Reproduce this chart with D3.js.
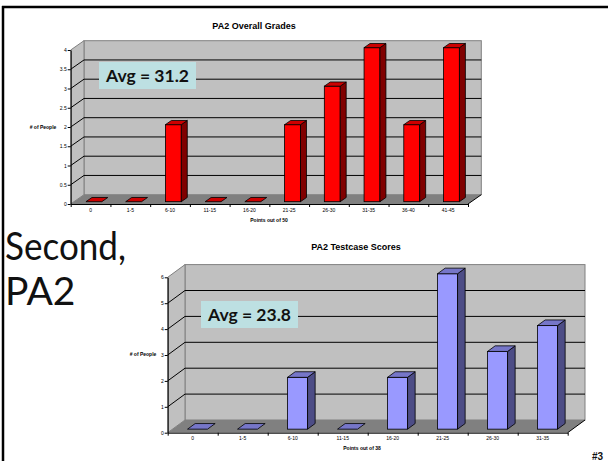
<!DOCTYPE html>
<html>
<head>
<meta charset="utf-8">
<script src="https://cdn.jsdelivr.net/npm/d3@7"></script>
<style>
  body { margin: 0; background: #fff; }
  svg { display: block; }
</style>
</head>
<body>
<div id="slide"></div>
<script>
// PA2 overall grades (top chart)
var gradeCats = ["0", "1-5", "6-10", "11-15", "16-20", "21-25", "26-30", "31-35", "36-40", "41-45"];
var gradeCounts = [0, 0, 2, 0, 0, 2, 3, 4, 2, 4];
var gradeTicks = [0, 0.5, 1, 1.5, 2, 2.5, 3, 3.5, 4];

// PA2 testcase scores (bottom chart)
var testCats = ["0", "1-5", "6-10", "11-15", "16-20", "21-25", "26-30", "31-35"];
var testCounts = [0, 0, 2, 0, 2, 6, 3, 4];
var testTicks = [0, 1, 2, 3, 4, 5, 6];

var width = 608, height = 461;
var svg = d3.select("#slide").append("svg")
  .attr("width", width)
  .attr("height", height);

// slide frame
svg.append("line").attr("x1", 2).attr("x2", width).attr("y1", 7).attr("y2", 7)
  .attr("stroke", "#000").attr("stroke-width", 2.5);
svg.append("line").attr("x1", 3).attr("x2", 3).attr("y1", 6).attr("y2", height)
  .attr("stroke", "#000").attr("stroke-width", 2.5);

function chart3d(opt) {
  var g = svg.append("g");
  var dx = opt.depth[0], dy = opt.depth[1];
  var n = opt.cats.length;
  var yMax = opt.ticks[opt.ticks.length - 1];

  var x = d3.scaleBand().domain(opt.cats).range([opt.x0, opt.x1])
    .paddingInner(0.6).paddingOuter(0.3);
  var xl = d3.scaleBand().domain(opt.cats).range([opt.x0, opt.x1]);
  var xi = d3.scaleLinear().domain([0, n]).range([opt.x0, opt.x1]);
  var y = d3.scaleLinear().domain([0, yMax]).range([opt.y0, opt.yTop]);

  var y0 = y(0), yT = y(yMax);

  // back wall
  g.append("rect")
    .attr("x", opt.x0 + dx).attr("y", yT + dy)
    .attr("width", opt.x1 - opt.x0).attr("height", y0 - yT)
    .attr("fill", "#c0c0c0").attr("stroke", "#808080").attr("stroke-width", 1);
  // side wall
  g.append("polygon")
    .attr("points", [[opt.x0, yT], [opt.x0 + dx, yT + dy], [opt.x0 + dx, y0 + dy], [opt.x0, y0]].join(" "))
    .attr("fill", "#c0c0c0").attr("stroke", "#808080").attr("stroke-width", 1);
  // floor
  g.append("polygon")
    .attr("points", [[opt.x0, y0], [opt.x1, y0], [opt.x1 + dx, y0 + dy], [opt.x0 + dx, y0 + dy]].join(" "))
    .attr("fill", "#808080");
  g.append("line")
    .attr("x1", opt.x1).attr("y1", y0).attr("x2", opt.x1 + dx).attr("y2", y0 + dy)
    .attr("stroke", "#000").attr("stroke-width", 1);

  // gridlines
  var inner = opt.ticks.filter(function (t) { return t > 0 && t < yMax; });
  g.selectAll(".grid").data(inner).enter().append("path")
    .attr("d", function (t) {
      return "M" + opt.x0 + "," + y(t) + "L" + (opt.x0 + dx) + "," + (y(t) + dy) +
        "L" + (opt.x1 + dx) + "," + (y(t) + dy);
    })
    .attr("fill", "none").attr("stroke", "#000").attr("stroke-width", 1);

  // bars
  var t1 = opt.bar[0], t2 = opt.bar[1];
  var bars = g.selectAll(".bar").data(opt.values).enter().append("g");
  bars.each(function (v, i) {
    var b = d3.select(this);
    var bx = x(opt.cats[i]), bw = x.bandwidth();
    var fx = bx + t1 * dx, fy = y0 + t1 * dy;
    var top = y(v) + t1 * dy;
    var ddx = (t2 - t1) * dx, ddy = (t2 - t1) * dy;
    if (v > 0) {
      b.append("rect")
        .attr("x", fx).attr("y", top).attr("width", bw).attr("height", fy - top)
        .attr("fill", opt.colors[0]).attr("stroke", "#000").attr("stroke-width", 0.8);
      b.append("polygon")
        .attr("points", [[fx + bw, top], [fx + bw + ddx, top + ddy], [fx + bw + ddx, fy + ddy], [fx + bw, fy]].join(" "))
        .attr("fill", opt.colors[1]).attr("stroke", "#000").attr("stroke-width", 0.8);
    }
    b.append("polygon")
      .attr("points", [[fx, top], [fx + bw, top], [fx + bw + ddx, top + ddy], [fx + ddx, top + ddy]].join(" "))
      .attr("fill", opt.colors[2]).attr("stroke", "#000").attr("stroke-width", 0.8);
  });

  // average box
  var ab = g.append("g");
  ab.append("rect")
    .attr("x", opt.avgBox[0]).attr("y", opt.avgBox[1])
    .attr("width", opt.avgBox[2]).attr("height", opt.avgBox[3])
    .attr("fill", "#bde0e2");
  ab.append("text")
    .attr("x", opt.avgBox[0] + opt.avgBox[2] / 2)
    .attr("y", opt.avgBox[1] + opt.avgBox[3] / 2 + 6)
    .attr("text-anchor", "middle")
    .attr("font-family", "Lato, sans-serif").attr("font-weight", "bold")
    .attr("font-size", 17.5).attr("fill", "#111")
    .text(opt.avgText);

  // y axis
  var ya = g.append("g")
    .attr("transform", "translate(" + opt.x0 + ",0)")
    .call(d3.axisLeft(y).tickValues(opt.ticks).tickFormat(d3.format("~g"))
      .tickSize(3).tickSizeOuter(0).tickPadding(1));
  ya.select(".domain").attr("stroke", "#000");
  ya.selectAll("text").attr("font-size", 5).attr("font-family", "Liberation Sans, Arial, sans-serif");

  // x axis: tick marks at boundaries, labels at centres
  var xa = g.append("g")
    .attr("transform", "translate(0," + y0 + ")")
    .call(d3.axisBottom(xi).tickValues(d3.range(n + 1)).tickSize(3).tickSizeOuter(0).tickFormat(function () { return ""; }));
  xa.select(".domain").attr("stroke", "#000");
  var xlab = g.append("g")
    .attr("transform", "translate(0," + y0 + ")")
    .call(d3.axisBottom(xl).tickSize(0).tickPadding(4));
  xlab.select(".domain").remove();
  xlab.selectAll("text").attr("font-size", 5).attr("font-family", "Liberation Sans, Arial, sans-serif");

  // titles
  g.append("text").attr("x", opt.title[1]).attr("y", opt.title[2])
    .attr("text-anchor", "middle").attr("font-family", "Liberation Sans, Arial, sans-serif")
    .attr("font-weight", "bold").attr("font-size", 9).text(opt.title[0]);
  g.append("text").attr("x", opt.xTitle[1]).attr("y", opt.xTitle[2])
    .attr("text-anchor", "middle").attr("font-family", "Liberation Sans, Arial, sans-serif")
    .attr("font-weight", "bold").attr("font-size", 5).text(opt.xTitle[0]);
  g.append("text").attr("x", opt.yTitle[1]).attr("y", opt.yTitle[2])
    .attr("text-anchor", "middle").attr("font-family", "Liberation Sans, Arial, sans-serif")
    .attr("font-weight", "bold").attr("font-size", 5).text(opt.yTitle[0]);
}

chart3d({
  cats: gradeCats, values: gradeCounts, ticks: gradeTicks,
  x0: 70.7, x1: 468, y0: 204, yTop: 50, depth: [13.3, -9.3], bar: [0.25, 0.7],
  colors: ["#ff0000", "#800000", "#cc0000"],
  avgBox: [99, 62, 97, 27], avgText: "Avg = 31.2",
  title: ["PA2 Overall Grades", 254, 29],
  xTitle: ["Points out of 50", 269, 222],
  yTitle: ["# of People", 43, 129]
});

chart3d({
  cats: testCats, values: testCounts, ticks: testTicks,
  x0: 167.7, x1: 567.7, y0: 432.7, yTop: 277.3, depth: [17.3, -12.7], bar: [0.28, 0.72],
  colors: ["#9999ff", "#4d4d86", "#7676c8"],
  avgBox: [201, 301, 97, 27], avgText: "Avg = 23.8",
  title: ["PA2 Testcase Scores", 356, 250],
  xTitle: ["Points out of 38", 362, 450],
  yTitle: ["# of People", 143, 356]
});

// slide text
svg.append("text").attr("x", 5).attr("y", 260)
  .attr("font-family", "Lato, sans-serif").attr("font-size", 39).attr("fill", "#111")
  .attr("textLength", 121).attr("lengthAdjust", "spacingAndGlyphs")
  .text("Second,");
svg.append("text").attr("x", 5).attr("y", 305)
  .attr("font-family", "Lato, sans-serif").attr("font-size", 39).attr("fill", "#111")
  .text("PA2");
svg.append("text").attr("x", 592).attr("y", 460)
  .attr("font-family", "Liberation Sans, Arial, sans-serif").attr("font-weight", "bold")
  .attr("font-size", 10).attr("fill", "#111")
  .text("#3");
</script>
</body>
</html>
